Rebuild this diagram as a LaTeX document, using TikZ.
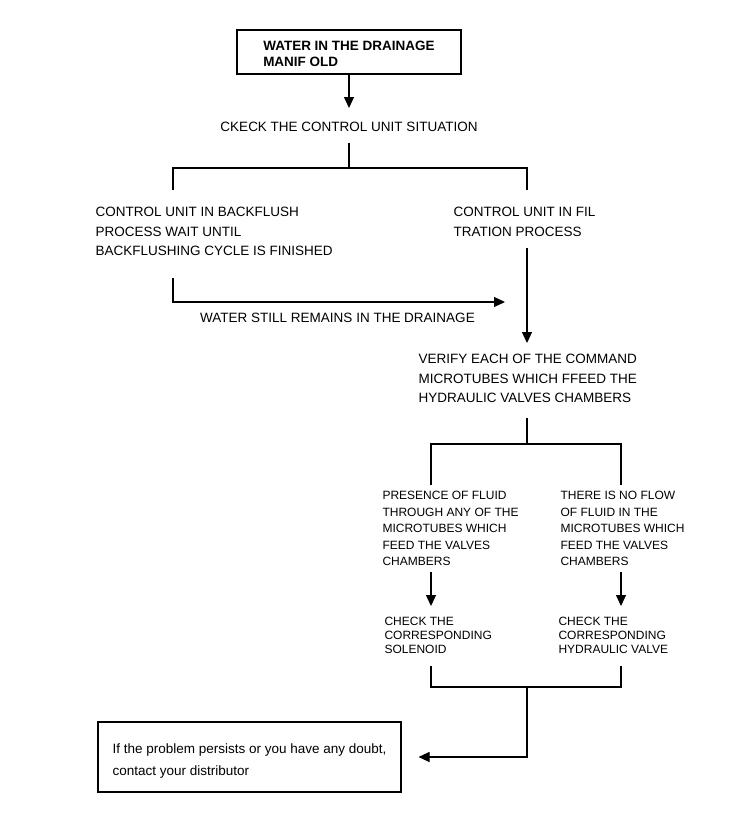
\documentclass[tikz,border=0pt]{standalone}
\usepackage{fontspec}
\setmainfont{Liberation Sans}
\usetikzlibrary{arrows.meta}

\begin{document}
\begin{tikzpicture}[x=1pt,y=-1pt,line width=1.1pt,
    txt/.style={anchor=north west,inner sep=0pt,align=left,font=\fontsize{13.5}{19.5}\selectfont},
    smalltxt/.style={txt,font=\fontsize{12}{16.5}\selectfont},
    checktxt/.style={txt,font=\fontsize{12}{14}\selectfont},
    box/.style={draw,align=left,inner sep=0pt},
    arr/.style={-{Triangle[length=11pt,width=10pt]}}]
    \useasboundingbox (0,0) rectangle (740,817);
    \node[box,minimum width=224pt,minimum height=44pt,text height=29.5pt,font=\bfseries\fontsize{13.5}{16}\selectfont] (manifold) at (349,52) {WATER IN THE DRAINAGE\\MANIF OLD};
    \node[txt,anchor=north] (check) at (349,122) {CKECK THE CONTROL UNIT SITUATION};
    \node[txt] (backflush) at (95,207) {CONTROL UNIT IN BACKFLUSH\\PROCESS WAIT UNTIL\\BACKFLUSHING CYCLE IS FINISHED};
    \node[txt] (filtration) at (453,207) {CONTROL UNIT IN FIL\\TRATION PROCESS};
    \node[txt,anchor=north] (remains) at (337.5,313) {WATER STILL REMAINS IN THE DRAINAGE};
    \node[txt] (verify) at (418,354) {VERIFY EACH OF THE COMMAND\\MICROTUBES WHICH FFEED THE\\HYDRAULIC VALVES CHAMBERS};
    \node[smalltxt] (presence) at (382,490.7) {PRESENCE OF FLUID\\THROUGH ANY OF THE\\MICROTUBES WHICH\\FEED THE VALVES\\CHAMBERS};
    \node[smalltxt] (noflow) at (560,490.7) {THERE IS NO FLOW\\OF FLUID IN THE\\MICROTUBES WHICH\\FEED THE VALVES\\CHAMBERS};
    \node[checktxt] (solenoid) at (384,616.7) {CHECK THE\\CORRESPONDING\\SOLENOID};
    \node[checktxt] (hydvalve) at (558,616.7) {CHECK THE\\CORRESPONDING\\HYDRAULIC VALVE};
    \node[box,minimum width=303pt,minimum height=70pt,text height=40.5pt,font=\fontsize{13.5}{22}\selectfont] (advice) at (249.5,757) {If the problem persists or you have any doubt,\\contact your distributor};

    \coordinate (fork1) at (349,168);
    \coordinate (b1) at (173,190);
    \coordinate (f1) at (527,190);
    \coordinate (b2) at (173,278);
    \coordinate (w2) at (505,302);
    \coordinate (f2) at (527,248);
    \coordinate (v0) at (527,343);
    \coordinate (v1) at (527,418);
    \coordinate (fork2) at (527,444);
    \coordinate (p1) at (431,485);
    \coordinate (n1) at (621,485);
    \coordinate (p2) at (431,572);
    \coordinate (p3) at (431,606);
    \coordinate (n2) at (621,572);
    \coordinate (n3) at (621,606);
    \coordinate (s1) at (431,666);
    \coordinate (h1) at (621,666);
    \coordinate (join) at (527,687);

    \draw[arr,shorten >=14pt] (manifold.south) -- (check.north);
    \draw[shorten <=10pt] (check.south) -- (fork1);
    \draw (b1) |- (fork1) -| (f1);
    \draw[arr] (b2) |- (w2);
    \draw[arr] (f2) -- (v0);
    \draw (v1) -- (fork2);
    \draw (p1) |- (fork2) -| (n1);
    \draw[arr] (p2) -- (p3);
    \draw[arr] (n2) -- (n3);
    \draw (s1) |- (join) -| (h1);
    \draw[arr,shorten >=17pt] (join) |- (advice.east);
\end{tikzpicture}
\end{document}
